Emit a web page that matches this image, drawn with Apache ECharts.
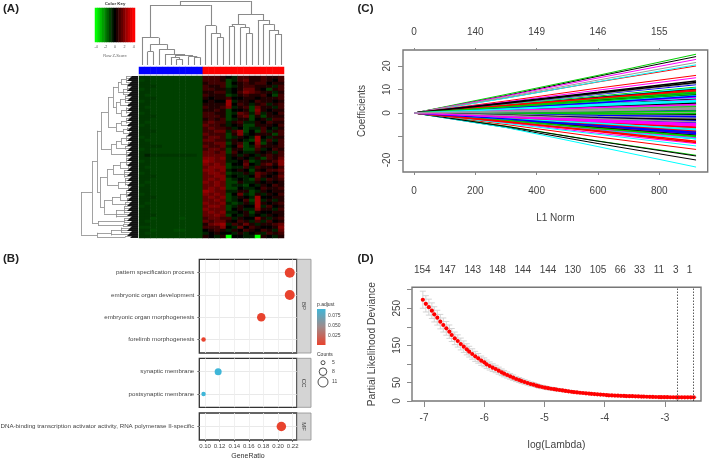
<!DOCTYPE html>
<html><head><meta charset="utf-8">
<style>html,body{margin:0;padding:0;background:#fff}#c{width:709px;height:460px}</style>
<script src="https://cdn.jsdelivr.net/npm/echarts@6/dist/echarts.min.js"></script>
</head><body><div id="c"></div>
<script>
// ---------- (A) heatmap ----------
const heatScale = {d:-4, c:-1.15, b:-1, e:-0.85, a:-0.5, '0':0, '1':0.5, '2':1, '3':1.55, '4':2, '5':2.4};
const heatRows = [
"eebbbbbbbbb 2221 0a 22 112 11 2","bebbbbbbbbb 2221 ba 23 112 10 2","eebbbbbbbbb 1222 b0 12 122 01 1",
"eeebbbbbbbb 2112 ba 12 211 1a 2","bebbbbbbbbb 2211 a0 13 310 b1 2","eebbbbbbbbb 1122 a0 24 321 1a 1",
"ebbbbbbbbbb 2111 ba 12 112 0b 2","eeebbbbbbbb 1011 20 01 101 11 2","bebbbbbbbbb 0100 5a 11 021 10 1",
"eebbbbbbbbb 1111 50 21 a12 a1 2","ebbbbbbbbbb 2112 4a 12 b31 1a 2","eebbbbbbbbb 1121 b0 01 b41 01 1",
"bebbbbbbbbb 2211 ba 32 a3a 10 2","eeebbbbbbbb 2221 b0 23 b1b 11 1","eebbbbbbbbb 1212 ba 11 b01 a2 2",
"ebbbbbbbbbb 2322 a1 2a a10 21 1","bebbbbbbbbb 3221 a0 1b b11 10 2","eebbbbbbbbb 2322 1a 0b aa2 0a 1",
"eeebbbbbbbb 2233 a2 4b 0b2 a1 2","eebbbbbbbbb 3222 b1 4a 011 1b 2","bebbbbbbbbb 2332 ba 10 a50 a1 1",
"ebbbbbbbbbb 3322 a1 0a b5a 2a 2","eebbbbbbbbb 2233 b1 2b 04b 10 2","eeeebbbbbbb 3223 a0 3b a31 11 2",
"bebbbbbbbbb 2332 b1 1b b2a 02 1","eebbbbbbbbb 3323 b2 0a a10 1a 2","eaeeeeeeeeb 3333 a1 a1 0a1 21 2",
"eebbbbbbbbb 4434 a0 10 a1b 21 3","bebbbbbbbbb 5433 aa 02 ba1 12 4","eebbbbbbbbb 4343 b0 03 0a2 31 4",
"ebbbbbbbbbb 3444 ba a2 a21 10 2","eebbbbbbbbb 4434 a0 10 b10 22 3","bebbbbbbbbb 3443 ba a1 a32 10 2",
"eeebbbbbbbb 3344 a0 aa 031 01 3","eebbbbbbbbb 3434 ba 0a b2a 21 2","ebbbbbbbbbb 4343 bb 1a a10 10 1",
"bebbbbbbbbb 3343 ba ab 0a1 02 1","eebbbbbbbbb 3434 bb 0a a02 11 2","eebbbbbbbbb 5433 aa 11 ba1 01 1",
"bebbbbbbbbb 4343 b0 3a b1a 10 2","eeebbbbbbbb 3434 ba 10 a50 01 1","eebbbbbbbbb 3343 ba 02 b5a 1a 1",
"ebbbbbbbbbb 4334 ab a1 a51 01 2","bebbbbbbbbb 3443 ba 10 05a 20 1","eebbbbbbbbb 4333 b0 1a a41 1a 2",
"eebbbbbbbbb 3434 aa 01 b10 01 1","eeebbbbbbbb 3343 b0 a1 a0a 10 1","eecbbbbcbbb 2332 2a 10 041 a1 2",
"ebbbbbbbbbb 3233 10 21 a2a 20 1","eebbbbbbbbb 1345 a2 13 1a1 12 3","bbbbbbbbbbb 2224 0a 30 210 01 4",
"eecbbbccbbb 0121 a1 02 102 1a 3","ebbbbbbbbbb a010 0a 1a 01a 21 2","eebbbbbbbbb 10a1 d0 0a ad1 0a 1"
];
const groupValues = [0,0,0,0,0,0,0,0,0,0,0,1,1,1,1,1,1,1,1,1,1,1,1,1,1];
const keyValues = [-4,-3.5,-3,-2.5,-2,-1.5,-1,-0.5,0,0.5,1,1.5,2,2.5,3,3.5,4];
// dendrograms: [height, child, child...]; a number child is that many leaves
const colTree = [64,
  [60,[27.3,1,[20.7,[13.3,2],[15.7,1,[11,1,[10,[7.7,1,[5.7,2]],[8.3,1,[7.7,2]]]]]]],
      [39.3,1,[31.7,1,[27.7,2]]]],
  [51,[40.7,[38.3,2],[37.5,1,[31.7,2]]],
      [45,1,[40.7,1,[35,1,[31,2]]]]]];
const rowTree = [57,
  [46,
    [41,
      [37,
        [30,
          [25,
            [20,[17,[12,4,3],[10,3]],[15,[11,3,3],3]],
            [22,[18,[13,4,4],[10,4]],[17,[12,4,3],[9,4]]]],
          [22,[17,[12,3,3],[10,3]],[15,[11,4],[9,4]]]],
        [27,[22,[17,[12,4,3],[10,4]],[13,4]],[19,[12,4,4]]]],
      [38,
        [31,[25,[18,[12,4,4],[10,4]],[14,4,4]],[20,[13,4,4],[10,4]]],
        [34,[26,[18,[12,4,4],[11,4]],[13,4]],[22,[14,4,4],4]]]],
    [40,[25,[14,3,3]],[15,3]]],
  [41,[27,[17,3,3],3],[13,2]]];
const leafDarkHeight = 6.5;

// ---------- (B) dot plot ----------
const bpTerms = ["pattern specification process","embryonic organ development","embryonic organ morphogenesis","forelimb morphogenesis"];
const bpRatio = [0.216,0.216,0.177,0.098];
const bpCount = [11,11,9,5];
const bpAdj   = [0.012,0.012,0.012,0.012];
const ccTerms = ["synaptic membrane","postsynaptic membrane"];
const ccRatio = [0.118,0.098];
const ccCount = [6,5];
const ccAdj   = [0.088,0.088];
const mfTerms = ["DNA-binding transcription activator activity, RNA polymerase II-specific"];
const mfRatio = [0.2045];
const mfCount = [10];
const mfAdj   = [0.012];
const ratioTicks = [0.10,0.12,0.14,0.16,0.18,0.20,0.22];
const ratioGrid = [0.10,0.11,0.12,0.13,0.14,0.15,0.16,0.17,0.18,0.19,0.20,0.21,0.22];

// ---------- (C) coefficient paths ----------
const coefNorm = [0,300,600,920];
const coefPalette = ['#000000','#ff0000','#00cd00','#0000ff','#00ffff','#ff00ff','#9a9a9a'];
const coefPaths = [
[7.4,15.6,24],[6.4,13.2,20],[7.9,16,25],[3.2,6.6,10],[6.3,13.3,20.5],[7.2,14.9,22.8],[6.8,14,21.5],
[-6.1,-13,-20],[-4.9,-10.2,-15.5],[-5.6,-11.9,-18],[3.9,7.9,12],[-6.2,-14.3,-23],[-4.1,-8.6,-13],[3,6.2,9.5],
[-5.7,-12,-18.3],[5.1,10.6,16],[3.6,7.2,11],[-3.5,-7.2,-11],[-4.4,-9.1,-14],[4.7,9.7,15],[4,8.1,12.5],
[2.4,5.1,7.6],[-2.7,-5.1,-8],[1,1.8,3],[-0.8,-1.2,-2],[2.8,6,9],[-3.3,-6.8,-10.5],[0.3,0.2,0.5],
[1.8,4.1,6],[-1.9,-4,-6],[0.8,1.2,2],[-1.2,-2.8,-4],[3.4,6.7,10.5],[-2.8,-6,-9],[-0.5,-0.6,-1],
[1.6,3,4.5],[-2.1,-4.7,-7],[0.2,0.8,1],[2.9,5.4,8.5],[-1.1,-1.8,-3],[1.9,3.4,5.5],[-1.5,-3.4,-5],
[-0.3,-0.1,-0.5],[1.1,2.7,3.8],[-3.2,-6.4,-10],[2.1,4.7,7],[-2.2,-4.1,-6.5],[0.6,0.9,1.5],[-0.7,-1.8,-2.5],
[3.1,6.6,10],[-2.6,-5.7,-8.5],[1,1.4,2.5],[-1.3,-3.1,-4.5],[2.2,4.1,6.5],[-1,-2.5,-3.5],[0.1,-0.2,0],
[2.5,5.4,8],[-2.3,-5,-7.5],[1.4,2.5,4],[-0.4,-1.1,-1.5],[1.5,3.4,5],[-1.9,-3.4,-5.5],[1.2,2,3.3],
[-3,-6.3,-9.5],[2.9,6.1,9.2],[0,-0.3,-0.2],[0.3,0.9,1.2],[-3.5,-7.4,-11],[2.1,4.3,6.8],[-0.6,-1.5,-2.2],
[1.3,2.7,4.2],[-2,-3.9,-6.2],[0.4,0.4,0.8],[-1.2,-1.9,-3.2],[2.4,4.9,7.3],[-1.4,-3.2,-4.8],[0.8,1.4,2.2],
[4.4,8.8,13.6],[-3.8,-7.6,-12],[2.7,5.8,8.8],[-2.9,-5.4,-8.8],[1.7,3.7,5.2],[-1.6,-3.7,-5.2],[0.5,1.1,1.8],
[-0.9,-2.1,-2.8],[3.3,6.4,9.8],[-3.1,-6.6,-9.8],[2.3,4.4,7.1],[-2.4,-4.4,-7.1],[1.1,2.3,3.6],[-1.1,-2.4,-3.7],
[4.1,8.5,13],[-3.6,-7.9,-12.5],[2.6,5.1,8.2],[-2.5,-5.4,-8.2],[1.6,3.2,4.8],[-1.7,-3,-4.6],[0.7,1.1,1.7]
];
const coefXTicks = [0,200,400,600,800];
const coefTopLabels = ["0","140","149","146","155"];
const coefYTicks = [-20,-10,0,10,20];
const coefYLabels = [-20,0,10,20];

// ---------- (D) cross-validation ----------
const logLambda = [-7.02,-6.97,-6.92,-6.87,-6.83,-6.78,-6.73,-6.68,-6.63,-6.58,-6.54,-6.49,-6.44,-6.39,-6.34,-6.29,-6.25,-6.20,-6.15,-6.10,-6.05,-6.00,-5.96,-5.91,-5.86,-5.81,-5.76,-5.71,-5.67,-5.62,-5.57,-5.52,-5.47,-5.42,-5.38,-5.33,-5.28,-5.23,-5.18,-5.13,-5.09,-5.04,
-4.99,-4.94,-4.89,-4.84,-4.80,-4.75,-4.70,-4.65,-4.60,-4.55,-4.51,-4.46,-4.41,-4.36,-4.31,-4.26,-4.22,-4.17,-4.12,-4.07,-4.02,-3.97,-3.93,-3.88,-3.83,-3.78,-3.73,-3.68,-3.64,-3.59,-3.54,-3.49,-3.44,-3.39,-3.35,-3.30,-3.25,-3.20,-3.15,-3.10,-3.06,-3.01,-2.96,-2.91,-2.86,-2.81,-2.77,-2.72,-2.67,-2.62,-2.57,-2.52];
const deviance = [273,262,253,243.5,233.6,224.6,213.9,204.9,195.9,186.9,177.9,168.9,161.8,153.7,146.5,139.3,133,126.7,120.4,115,108.7,104.2,98.9,94.4,89.9,86.3,81.8,77.3,73.7,70.1,66.5,62.9,59.3,56.6,53.9,51.2,48.5,45.8,44,41.4,39.6,37.8,
36,34.5,33,32,30.8,29.6,28.4,27.2,26.1,25,24,23.2,22.3,21.5,20.7,20,19.3,18.6,18,17.4,16.8,16,15.4,15,14.6,14.3,14,13.7,13.4,13.1,12.9,12.6,12.3,12,11.8,11.5,11.2,11,10.8,10.6,10.4,10.3,10.2,10.1,10.1,10,10,10,10,10,10,10];
const devErr = [23,22,21.5,21,20.5,20,19.5,19,18.5,18,17.5,17,16.5,16,15.5,15,14.5,14,13.5,13,12.5,12,11.5,11,10.5,10,9.5,9,8.6,8.2,7.8,7.4,7,6.7,6.4,6.1,5.8,5.5,5.2,5,4.8,4.6,
4.4,4.2,4,3.8,3.6,3.4,3.2,3,2.9,2.8,2.7,2.6,2.5,2.4,2.3,2.2,2.1,2,1.9,1.8,1.7,1.6,1.5,1.4,1.3,1.3,1.2,1.2,1.1,1.1,1,1,1,0.9,0.9,0.9,0.8,0.8,0.8,0.8,0.7,0.7,0.7,0.7,0.6,0.6,0.6,0.6,0.6,0.6,0.6,0.6];
const lambdaMin = -2.80, lambdaSe = -2.53;
const devXTicks = [-7,-6,-5,-4,-3];
const devYTicks = [0,50,100,150,200,250,300];
const devYLabels = [0,50,150,250];
const dfTopX = [-7.03,-6.61,-6.19,-5.78,-5.36,-4.94,-4.53,-4.11,-3.74,-3.42,-3.1,-2.82,-2.59];
const dfTopN = ["154","147","143","148","144","144","130","105","66","33","11","3","1"];

// ---------- build ----------
const FONT = '"Liberation Sans", Arial, sans-serif';
const grids=[], xAxes=[], yAxes=[], topAxes=[], series=[];
const noLine={show:false,onZero:false};
function panel(rect,x,y){rect.outerBoundsMode='none';grids.push(rect);const i=grids.length-1;xAxes.push(Object.assign({gridIndex:i},x));yAxes.push(Object.assign({gridIndex:i},y));return i;}
const hidden=(o)=>Object.assign({show:false},o);
function walk(node,c){
  const h=node[0],kids=[];
  node.slice(1).forEach(k=>{
    if(typeof k==='number'){for(let n=0;n<k;n++){const p=c.i++;c.leaf.push([p,0,p,h]);kids.push(p);}}
    else{const r=walk(k,c);c.inner.push([r.pos,r.h,r.pos,h]);kids.push(r.pos);}
  });
  const a=Math.min(...kids),b=Math.max(...kids);
  c.inner.push([a,h,b,h]);
  return {pos:(a+b)/2,h};
}
function treeLines(idx,segs,flip,color,width){
  series.push({type:'lines',coordinateSystem:'cartesian2d',xAxisIndex:idx,yAxisIndex:idx,polyline:false,silent:true,
    lineStyle:{color,width,opacity:1},
    data:segs.map(s=>({coords:flip?[[s[1],s[0]],[s[3],s[2]]]:[[s[0],s[1]],[s[2],s[3]]]}))});
}
// heatmap
const rowsClean=heatRows.map(r=>r.replace(/ /g,''));
const heatData=[];rowsClean.forEach((r,y)=>[...r].forEach((ch,x)=>heatData.push([x,y,heatScale[ch]])));
const colsCat=groupValues.map((_,i)=>i), rowsCat=rowsClean.map((_,i)=>i);
let g=panel({left:139,top:76,width:145,height:162},hidden({type:'category',data:colsCat}),hidden({type:'category',data:rowsCat,inverse:true}));
series.push({type:'heatmap',xAxisIndex:g,yAxisIndex:g,data:heatData,silent:true});
const heatSeries=series.length-1;
g=panel({left:139,top:67,width:145,height:7},hidden({type:'category',data:colsCat}),hidden({type:'category',data:[0]}));
series.push({type:'heatmap',xAxisIndex:g,yAxisIndex:g,data:groupValues.map((v,i)=>[i,0,v]),silent:true});
const annotSeries=series.length-1;
// colour key
g=panel({left:95,top:8,width:40,height:34},
 {type:'category',data:keyValues,axisLine:noLine,
  axisTick:{alignWithLabel:true,interval:3,length:1.5,lineStyle:{color:'#777',width:.5}},
  axisLabel:{interval:3,fontSize:3.6,margin:3,color:'#555',fontFamily:FONT},
  name:'Row Z-Score',nameLocation:'middle',nameGap:12,nameTextStyle:{fontSize:4,color:'#666',fontFamily:FONT}},
 hidden({type:'category',data:[0]}));
series.push({type:'heatmap',xAxisIndex:g,yAxisIndex:g,data:keyValues.map((v,i)=>[i,0,v]),silent:true});
const keySeries=series.length-1;
// dendrograms
const colC={i:0,leaf:[],inner:[]};walk(colTree,colC);
g=panel({left:139,top:0,width:145,height:65},hidden({type:'value',min:-0.5,max:24.5}),hidden({type:'value',min:0,max:65}));
treeLines(g,colC.inner.concat(colC.leaf),false,'#8a8a8a',1.1);
const rowC={i:0,leaf:[],inner:[]};walk(rowTree,rowC);
g=panel({left:80,top:76,width:58,height:162},hidden({type:'value',min:0,max:58,inverse:true}),hidden({type:'value',min:-0.5,max:rowC.i-0.5,inverse:true}));
treeLines(g,rowC.inner.concat(rowC.leaf.filter(s=>s[0]%2===0)),true,'#8a8a8a',0.8);
treeLines(g,rowC.leaf.map(s=>[s[0],0,s[0],leafDarkHeight+(s[0]%5)]),true,'#000',0.9);
// dot plot panels
const sizeOfCount={5:4.5,6:7,9:8.5,10:9.5,11:10};
function dotPanel(top,height,terms,ratio,count,adj,last){
  const n=terms.length;
  const i=panel({left:199.3,top,width:97.4,height,show:true,borderColor:'#333',borderWidth:1.3,backgroundColor:'#fff'},
   {type:'value',min:0.0922,max:0.2255,
    axisLine:noLine,
    axisTick:{show:last,customValues:ratioTicks,length:2,lineStyle:{color:'#444',width:.7}},
    axisLabel:{show:last,customValues:ratioTicks,formatter:v=>v.toFixed(2),fontSize:6,margin:3,color:'#444',fontFamily:FONT},
    splitLine:{show:true,customValues:ratioGrid,lineStyle:{color:'#ececec',width:.8}},
    name:last?'GeneRatio':'',nameLocation:'middle',nameGap:13,nameTextStyle:{fontSize:7,color:'#333',fontFamily:FONT}},
   {type:'value',min:-0.6,max:n-0.4,inverse:true,
    axisLine:noLine,
    axisTick:{customValues:terms.map((_,k)=>k),length:2,lineStyle:{color:'#444',width:.7}},
    axisLabel:{customValues:terms.map((_,k)=>k),formatter:v=>terms[v],fontSize:6.2,margin:5,color:'#444',fontFamily:FONT},
    splitLine:{show:true,customValues:terms.map((_,k)=>k),lineStyle:{color:'#e6e6e6',width:.9}}});
  series.push({type:'scatter',xAxisIndex:i,yAxisIndex:i,silent:true,
    data:terms.map((_,k)=>[ratio[k],k,adj[k],count[k]]),
    symbolSize:v=>sizeOfCount[v[3]],itemStyle:{opacity:1},z:5});
  return series.length-1;
}
const dotSeries=[
 dotPanel(259.3,93.7,bpTerms,bpRatio,bpCount,bpAdj,false),
 dotPanel(358.3,49,ccTerms,ccRatio,ccCount,ccAdj,false),
 dotPanel(413,27,mfTerms,mfRatio,mfCount,mfAdj,true)];
// coefficient panel
const rAxisText={fontSize:10,color:'#444',fontFamily:FONT};
g=panel({left:403,top:50,width:304.7,height:122,show:true,borderColor:'#777',borderWidth:1.4},
 {type:'value',min:-36,max:958,axisLine:noLine,splitLine:{show:false},
  axisTick:{customValues:coefXTicks,length:3,lineStyle:{color:'#888'}},
  axisLabel:Object.assign({customValues:coefXTicks,margin:14},rAxisText),
  name:'L1 Norm',nameLocation:'middle',nameGap:41,nameTextStyle:rAxisText},
 {type:'value',min:-25.1,max:26.8,axisLine:noLine,splitLine:{show:false},
  axisTick:{customValues:coefYTicks,length:5,lineStyle:{color:'#888'}},
  axisLabel:Object.assign({customValues:coefYLabels,rotate:90,margin:11},rAxisText),
  name:'Coefficients',nameLocation:'middle',nameGap:36,nameTextStyle:rAxisText});
const coefGrid=g;
topAxes.push({gridIndex:coefGrid,type:'value',position:'top',min:-36,max:958,axisLine:noLine,splitLine:{show:false},
  axisTick:{customValues:coefXTicks,length:2,lineStyle:{color:'#888'}},
  axisLabel:Object.assign({customValues:coefXTicks,margin:13,formatter:v=>coefTopLabels[coefXTicks.indexOf(v)]},rAxisText)});
coefPaths.forEach((p,i)=>series.push({type:'line',xAxisIndex:coefGrid,yAxisIndex:coefGrid,silent:true,showSymbol:false,
  data:coefNorm.map((x,k)=>[x,k===0?0:p[k-1]]),lineStyle:{width:i<21?1:1.5,color:coefPalette[i%coefPalette.length]}}));
// deviance panel
g=panel({left:412,top:287.3,width:289,height:113.7,show:true,borderColor:'#777',borderWidth:1.4},
 {type:'value',min:-7.2,max:-2.4,axisLine:noLine,splitLine:{show:false},
  axisTick:{customValues:devXTicks,length:6,lineStyle:{color:'#888'}},
  axisLabel:Object.assign({customValues:devXTicks,margin:12},rAxisText),
  name:'log(Lambda)',nameLocation:'middle',nameGap:39,nameTextStyle:Object.assign({},rAxisText,{fontSize:10.3})},
 {type:'value',min:0,max:306.5,axisLine:noLine,splitLine:{show:false},
  axisTick:{customValues:devYTicks,length:5,lineStyle:{color:'#888'}},
  axisLabel:Object.assign({customValues:devYLabels,rotate:90,margin:10},rAxisText),
  name:'Partial Likelihood Deviance',nameLocation:'middle',nameGap:35,nameTextStyle:Object.assign({},rAxisText,{fontSize:10.3})});
const devGrid=g;
topAxes.push({gridIndex:devGrid,type:'value',position:'top',min:-7.2,max:-2.4,axisLine:noLine,splitLine:{show:false},
  axisTick:{show:false},
  axisLabel:Object.assign({customValues:dfTopX,margin:12,hideOverlap:false,formatter:v=>dfTopN[dfTopX.indexOf(v)]},rAxisText)});
series.push({type:'custom',xAxisIndex:devGrid,yAxisIndex:devGrid,silent:true,
  data:logLambda.map((x,i)=>[x,deviance[i]-devErr[i],deviance[i]+devErr[i]]),
  encode:{x:0,y:[1,2]},
  renderItem:(p,api)=>{
    const x=api.value(0),a=api.coord([x,api.value(1)]),b=api.coord([x,api.value(2)]);
    const st={stroke:'#cfcfcf',lineWidth:.9,fill:null};
    const ln=(x1,y1,x2,y2)=>({type:'line',shape:{x1,y1,x2,y2},style:st});
    return {type:'group',children:[ln(a[0],a[1],b[0],b[1]),ln(a[0]-3,a[1],a[0]+3,a[1]),ln(b[0]-3,b[1],b[0]+3,b[1])]};
  }});
series.push({type:'scatter',xAxisIndex:devGrid,yAxisIndex:devGrid,silent:true,symbolSize:4.2,z:4,
  itemStyle:{color:'#ff0000',opacity:1},data:logLambda.map((x,i)=>[x,deviance[i]]),
  markLine:{silent:true,symbol:'none',label:{show:false},animation:false,
    lineStyle:{type:[1.5,1.5],color:'#333',width:.8},data:[{xAxis:lambdaMin},{xAxis:lambdaSe}]}});

// text, strips and legends
const txt=(text,x,y,o={},rotation)=>({type:'text',x,y,rotation:rotation||0,silent:true,
  style:Object.assign({text,fontFamily:FONT,fontSize:5,fill:'#444',align:'left',verticalAlign:'middle'},o)});
const rect=(x,y,w,h,o)=>({type:'rect',silent:true,shape:{x,y,width:w,height:h},style:o});
const circ=(cx,cy,r)=>({type:'circle',silent:true,shape:{cx,cy,r},style:{fill:'#fff',stroke:'#222',lineWidth:.8}});
const stripStyle={fill:'#d4d4d4',stroke:'#8f8f8f',lineWidth:.8};
const graphic=[
  txt('(A)',3,9,{fontSize:11.5,fontWeight:'bold',fill:'#222'}),
  txt('(B)',3,258.5,{fontSize:11.5,fontWeight:'bold',fill:'#222'}),
  txt('(C)',357.5,9,{fontSize:11.5,fontWeight:'bold',fill:'#222'}),
  txt('(D)',357.5,259,{fontSize:11.5,fontWeight:'bold',fill:'#222'}),
  txt('Color Key',115,3.7,{fontSize:4.4,fontWeight:'bold',align:'center',fill:'#333'}),
  rect(297,259.3,14,93.7,stripStyle),rect(297,358.3,14,49,stripStyle),rect(297,413,14,27,stripStyle),
  txt('BP',304,306,{fontSize:6,align:'center'},-Math.PI/2),
  txt('CC',304,383,{fontSize:6,align:'center'},-Math.PI/2),
  txt('MF',304,426.5,{fontSize:6,align:'center'},-Math.PI/2),
  txt('p.adjust',317,305,{fontSize:5,fill:'#333'}),
  rect(317,309,8.5,36,{fill:new echarts.graphic.LinearGradient(0,0,0,1,[{offset:0,color:'#3fb6d8'},{offset:.5,color:'#a08a8a'},{offset:1,color:'#e8432e'}])}),
  txt('0.075',328,316,{}),txt('0.050',328,326,{}),txt('0.025',328,335.7,{}),
  txt('Counts',317,355,{fontSize:5,fill:'#333'}),
  circ(323,362.7,2),circ(323,371.7,3.8),circ(323,382,5),
  txt('5',332,362.7,{}),txt('8',332,371.7,{}),txt('11',332,382,{})
];

const chart=echarts.init(document.getElementById('c'),null,{renderer:'canvas'});
chart.setOption({
  animation:false,backgroundColor:'#fff',textStyle:{fontFamily:FONT},
  grid:grids,xAxis:xAxes.concat(topAxes),yAxis:yAxes,series,graphic,
  visualMap:[
   {show:false,type:'continuous',min:-4,max:4,seriesIndex:[heatSeries,keySeries],dimension:2,inRange:{color:['#00ff00','#000000','#ff0000']}},
   {show:false,type:'piecewise',seriesIndex:annotSeries,dimension:2,pieces:[{value:0,color:'#0000ff'},{value:1,color:'#ff0000'}]},
   {show:false,type:'continuous',min:0.012,max:0.088,seriesIndex:dotSeries,dimension:2,inRange:{color:['#e8432e','#a08a8a','#3fb6d8']}}
  ]
});
</script></body></html>
